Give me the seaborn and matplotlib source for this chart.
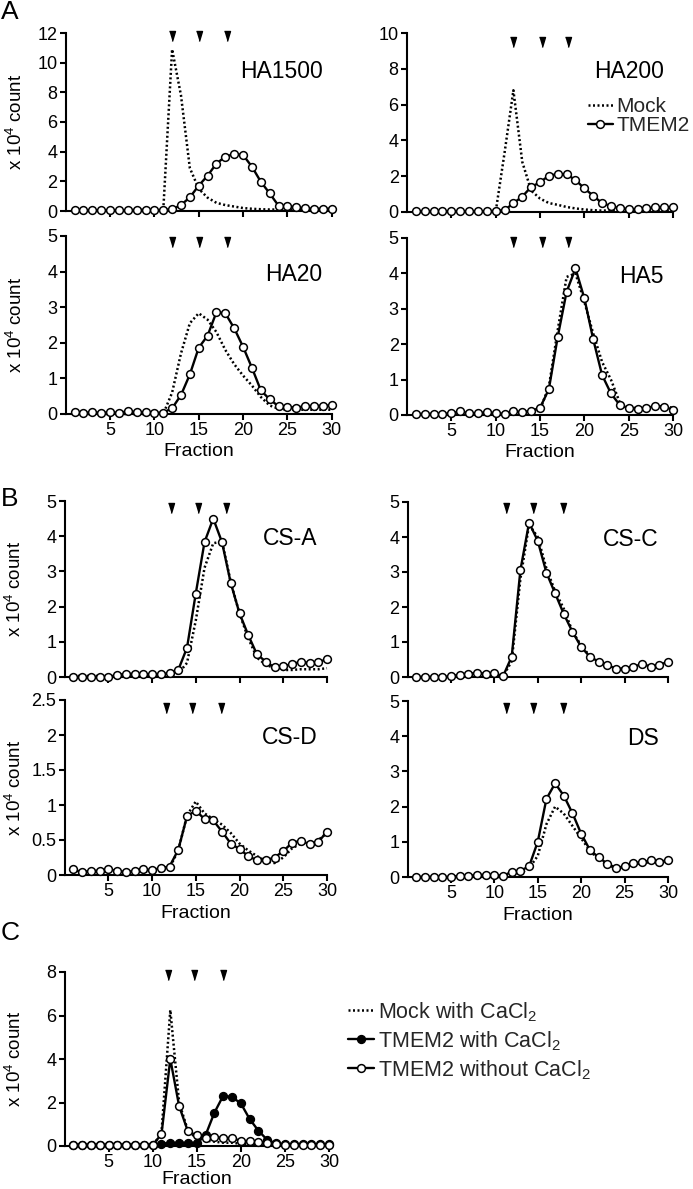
import matplotlib
matplotlib.use("Agg")
import matplotlib.pyplot as plt
import matplotlib.transforms as mtransforms
from matplotlib.lines import Line2D
import seaborn as sns

# ---------------- data ----------------
fractions = list(range(1, 31))

ha1500_mock = [0]*10 + [0, 10.9, 7.8, 2.9, 1.5, 0.9, 0.55, 0.4, 0.3, 0.2,
                        0.15, 0.12, 0.1, 0.1, 0.1, 0.1, 0.1, 0.1, 0.1, 0.1]
ha1500_tmem = [0.05, 0.05, 0.05, 0.05, 0.05, 0.05, 0.05, 0.08, 0.08, 0.05, 0.08,
               0.11, 0.4, 0.92, 1.71, 2.38, 3.2, 3.66, 3.84, 3.78, 2.99, 1.98,
               1.19, 0.36, 0.33, 0.25, 0.18, 0.15, 0.15, 0.15]

ha200_mock = [0]*10 + [3.3, 6.8, 2.8, 1.2, 0.75, 0.5, 0.4, 0.28, 0.2, 0.14,
                       0.1, 0.08, 0.08, 0.08, 0.08, 0.08, 0.08, 0.08, 0.08, 0.08]
ha200_tmem = [0.03, 0.03, 0.03, 0.03, 0.03, 0.03, 0.03, 0.03, 0.03, 0.07, 0.1,
              0.49, 0.86, 1.4, 1.66, 2.03, 2.12, 2.1, 1.79, 1.32, 0.91, 0.49,
              0.34, 0.2, 0.17, 0.15, 0.2, 0.26, 0.26, 0.28]

ha20_mock = [0]*11 + [0.6, 1.7, 2.55, 2.83, 2.65, 2.3, 1.8, 1.4, 1.08, 0.8,
                      0.48, 0.24, 0.15, 0.12, 0.12, 0.12, 0.12, 0.12, 0.12]
ha20_tmem = [0.05, 0.03, 0.05, 0.03, 0.05, 0.03, 0.08, 0.05, 0.05, 0.03, 0.04,
             0.16, 0.53, 1.11, 1.86, 2.2, 2.86, 2.83, 2.41, 1.89, 1.3, 0.67,
             0.41, 0.22, 0.2, 0.18, 0.22, 0.23, 0.23, 0.24]

ha5_mock = [0.03]*14 + [0.15, 0.8, 2.4, 3.9, 4.0, 3.2, 2.3, 1.5, 1.0, 0.35,
                        0.2, 0.2, 0.2, 0.22, 0.25, 0.2]
ha5_tmem = [0.03, 0.02, 0.03, 0.03, 0.05, 0.1, 0.05, 0.05, 0.08, 0.05, 0.03,
            0.1, 0.08, 0.12, 0.2, 0.73, 2.21, 3.48, 4.14, 3.3, 2.14, 1.13,
            0.61, 0.28, 0.19, 0.16, 0.19, 0.26, 0.24, 0.14]

csa_mock = [0.03]*12 + [0.1, 0.4, 1.6, 3.1, 3.8, 3.85, 2.7, 1.8, 1.1, 0.55,
                        0.35, 0.25, 0.2, 0.2, 0.22, 0.22, 0.22, 0.25]
csa_tmem = [0, 0, 0, 0, 0, 0.06, 0.09, 0.09, 0.08, 0.08, 0.09, 0.1, 0.2,
            0.83, 2.37, 3.83, 4.5, 3.83, 2.67, 1.81, 1.19, 0.64, 0.44, 0.27,
            0.3, 0.37, 0.43, 0.4, 0.43, 0.5]

csc_mock = [0, 0, 0, 0, 0.02, 0.07, 0.1, 0.1, 0.1, 0.1, 0.02,
            0.45, 2.8, 4.35, 4.0, 3.1, 2.45, 1.95, 1.3, 0.9, 0.6, 0.45,
            0.33, 0.25, 0.25, 0.28, 0.33, 0.3, 0.35, 0.4]
csc_tmem = [0, 0, 0, 0, 0.02, 0.07, 0.1, 0.11, 0.1, 0.11, 0.02,
            0.58, 3.05, 4.41, 3.89, 2.98, 2.39, 1.8, 1.29, 0.86, 0.58, 0.44,
            0.34, 0.24, 0.24, 0.29, 0.37, 0.3, 0.34, 0.44]

csd_mock = [0.05]*11 + [0.1, 0.35, 0.85, 1.05, 0.88, 0.8, 0.72, 0.6, 0.45,
                        0.35, 0.27, 0.2, 0.17, 0.25, 0.38, 0.45, 0.45, 0.5, 0.6]
csd_tmem = [0.08, 0.04, 0.06, 0.06, 0.08, 0.06, 0.04, 0.06, 0.08, 0.07, 0.1,
            0.12, 0.36, 0.84, 0.92, 0.8, 0.78, 0.62, 0.45, 0.37, 0.27, 0.21,
            0.21, 0.25, 0.34, 0.46, 0.49, 0.44, 0.47, 0.62]

ds_mock = [0]*11 + [0.1, 0.12, 0.25, 0.6, 1.5, 2.0, 1.8, 1.45, 1.1, 0.75,
                    0.5, 0.35, 0.25, 0.28, 0.35, 0.4, 0.42, 0.4, 0.45]
ds_tmem = [0, 0, 0, 0, 0, 0.04, 0.03, 0.06, 0.06, 0.06, 0.03, 0.15, 0.18,
           0.3, 1.0, 2.22, 2.66, 2.31, 1.81, 1.23, 0.77, 0.56, 0.38, 0.26,
           0.3, 0.4, 0.42, 0.47, 0.42, 0.49]

c_mock_ca = [0]*10 + [0.6, 6.25, 2.0, 0.7, 0.35, 0.25, 0.2, 0.15, 0.15, 0.1,
                      0.1, 0.1, 0.05, 0.05, 0.05, 0.05, 0.05, 0.05, 0.05, 0.05]
c_tmem_ca = [0.05]*10 + [0.1, 0.15, 0.15, 0.15, 0.15, 0.5, 1.53, 2.31, 2.25,
                         1.96, 1.24, 0.7, 0.28, 0.12, 0.08, 0.08, 0.08, 0.08,
                         0.08, 0.08]
c_tmem_noca = [0.05]*10 + [0.54, 4.0, 1.84, 0.67, 0.49, 0.37, 0.41, 0.37, 0.37,
                           0.23, 0.23, 0.2, 0.15, 0.1, 0.05, 0.05, 0.05, 0.05,
                           0.05, 0.05]

# arrowhead (size marker) fractions per panel
arrows_ha_left = [12.0, 15.0, 18.2]
arrows_ha_right = [11.9, 15.2, 18.2]
arrows_csa = [12.2, 15.2, 18.5]
arrows_csc = [11.4, 14.5, 17.9]
arrows_csd = [11.65, 14.6, 17.9]
arrows_ds = [11.4, 14.4, 17.9]
arrows_c = [11.7, 14.7, 18.0]

titles = ["HA1500", "HA200", "HA20", "HA5", "CS-A", "CS-C", "CS-D", "DS"]
ylabel_txt = "x 10$^4$ count"
xlabel_txt = "Fraction"
legend_a = ["Mock", "TMEM2"]
legend_c = ["Mock with CaCl$_2$", "TMEM2 with CaCl$_2$", "TMEM2 without CaCl$_2$"]

# ---------------- style ----------------
sns.set_style("ticks")
plt.rcParams["font.family"] = ["Liberation Sans", "DejaVu Sans"]
plt.rcParams["mathtext.fontset"] = "custom"
plt.rcParams["mathtext.rm"] = "Liberation Sans"
plt.rcParams["mathtext.it"] = "Liberation Sans:italic"
plt.rcParams["mathtext.bf"] = "Liberation Sans:bold"

W, H = 693, 1189
fig = plt.figure(figsize=(W / 100, H / 100), dpi=100)


def make_ax(x0, x1, ytop, ybot):
    return fig.add_axes([x0 / W, 1 - ybot / H, (x1 - x0) / W, (ybot - ytop) / H])


DOT = (0, (0.8, 1.0))
TRI = [(-0.6, 1), (0.6, 1), (0, -1)]


def draw_mock(ax, vals):
    sns.lineplot(x=fractions, y=vals, ax=ax, color="black", linestyle=DOT,
                 linewidth=1.8, clip_on=False, zorder=2)


def draw_tmem(ax, vals, filled=False):
    sns.lineplot(x=fractions, y=vals, ax=ax, color="black", linewidth=1.7,
                 marker="o", markersize=5.6,
                 markerfacecolor="black" if filled else "white",
                 markeredgecolor="black", markeredgewidth=1.1,
                 clip_on=False, zorder=3)


def style(ax, ymax, yticks, ytlabels=None, xlabels=True, ylabel=True, xpad=3):
    ax.set_xlim(0, 30)
    ax.set_ylim(0, ymax)
    ax.set_xticks([5, 10, 15, 20, 25, 30])
    ax.set_yticks(yticks)
    if ytlabels is not None:
        ax.set_yticklabels(ytlabels)
    for s in ["top", "right"]:
        ax.spines[s].set_visible(False)
    for s in ["left", "bottom"]:
        ax.spines[s].set_linewidth(1.5)
        ax.spines[s].set_color("black")
    ax.tick_params(width=1.5, length=4, labelsize=13, pad=2, direction="out",
                   color="black", labelcolor="black")
    ax.tick_params(axis="x", labelbottom=xlabels)
    if xlabels:
        ax.set_xlabel(xlabel_txt, fontsize=14, labelpad=xpad, color="black")
    else:
        ax.set_xlabel("")
    if ylabel:
        ax.set_ylabel(ylabel_txt, fontsize=13.5, color="black")
        ax.yaxis.set_label_coords(-0.15, 0.5)
    else:
        ax.set_ylabel("")


def arrows(ax, xs, y):
    trans = mtransforms.blended_transform_factory(ax.transData, ax.transAxes)
    ax.plot(xs, [y] * len(xs), linestyle="none", marker=TRI, ms=7.2,
            color="black", transform=trans, clip_on=False)


def title(ax, txt):
    ax.text(0.965, 0.785, txt, transform=ax.transAxes, ha="right",
            va="center", fontsize=16.5, color="black")


# ---------------- panel A ----------------
ax = make_ax(65.7, 331.7, 33, 211)
draw_mock(ax, ha1500_mock); draw_tmem(ax, ha1500_tmem)
style(ax, 12, [0, 2, 4, 6, 8, 10, 12], xlabels=False)
arrows(ax, arrows_ha_left, 0.985); title(ax, titles[0])

ax = make_ax(407, 673, 33, 212)
draw_mock(ax, ha200_mock); draw_tmem(ax, ha200_tmem)
style(ax, 10, [0, 2, 4, 6, 8, 10], xlabels=False, ylabel=False)
arrows(ax, arrows_ha_right, 0.947); title(ax, titles[1])
handles = [Line2D([], [], color="black", linestyle=DOT, linewidth=1.8),
           Line2D([], [], color="black", linewidth=1.7, marker="o",
                  markersize=5.6, markerfacecolor="white",
                  markeredgecolor="black", markeredgewidth=1.1)]
ax.legend(handles, legend_a, loc="upper left", bbox_to_anchor=(0.68, 0.64),
          frameon=False, fontsize=15, handlelength=1.2, handletextpad=0.15,
          labelspacing=0.0, borderpad=0, borderaxespad=0)

ax = make_ax(65.7, 331.7, 236, 414)
draw_mock(ax, ha20_mock); draw_tmem(ax, ha20_tmem)
style(ax, 5, [0, 1, 2, 3, 4, 5])
arrows(ax, arrows_ha_left, 0.966); title(ax, titles[2])

ax = make_ax(407, 673, 238, 415)
draw_mock(ax, ha5_mock); draw_tmem(ax, ha5_tmem)
style(ax, 5, [0, 1, 2, 3, 4, 5], ylabel=False)
arrows(ax, arrows_ha_right, 0.977); title(ax, titles[3])

# ---------------- panel B ----------------
ax = make_ax(64.5, 327, 501, 677)
draw_mock(ax, csa_mock); draw_tmem(ax, csa_tmem)
style(ax, 5, [0, 1, 2, 3, 4, 5], xlabels=False)
arrows(ax, arrows_csa, 0.96); title(ax, titles[4])

ax = make_ax(407.5, 668, 502, 677)
draw_mock(ax, csc_mock); draw_tmem(ax, csc_tmem)
style(ax, 5, [0, 1, 2, 3, 4, 5], xlabels=False, ylabel=False)
arrows(ax, arrows_csc, 0.966); title(ax, titles[5])

ax = make_ax(64.5, 327, 700, 875)
draw_mock(ax, csd_mock); draw_tmem(ax, csd_tmem)
style(ax, 2.5, [0, 0.5, 1, 1.5, 2, 2.5], ["0", "0.5", "1", "1.5", "2", "2.5"])
arrows(ax, arrows_csd, 0.954); title(ax, titles[6])

ax = make_ax(407.5, 668, 701, 877)
draw_mock(ax, ds_mock); draw_tmem(ax, ds_tmem)
style(ax, 5, [0, 1, 2, 3, 4, 5], ylabel=False)
arrows(ax, arrows_ds, 0.963); title(ax, titles[7])

# ---------------- panel C ----------------
ax = make_ax(64.5, 329, 972, 1146)
draw_mock(ax, c_mock_ca)
draw_tmem(ax, c_tmem_ca, filled=True)
draw_tmem(ax, c_tmem_noca)
style(ax, 8, [0, 2, 4, 6, 8], xpad=-0.5)
arrows(ax, arrows_c, 0.983)
handles_c = [Line2D([], [], color="black", linestyle=DOT, linewidth=1.8),
             Line2D([], [], color="black", linewidth=1.7, marker="o",
                    markersize=5.6, markerfacecolor="black",
                    markeredgecolor="black", markeredgewidth=1.1),
             Line2D([], [], color="black", linewidth=1.7, marker="o",
                    markersize=5.6, markerfacecolor="white",
                    markeredgecolor="black", markeredgewidth=1.1)]
fig.legend(handles_c, legend_c, loc="upper left",
           bbox_to_anchor=(348 / W, 1 - 1000 / H), frameon=False, fontsize=15.5,
           handlelength=1.2, handletextpad=0.2, labelspacing=0.25,
           borderpad=0, borderaxespad=0)

# panel letters
for letter, ytop in [("A", 0), ("B", 487), ("C", 921)]:
    fig.text(1 / W, 1 - ytop / H, letter, fontsize=19, ha="left", va="top",
             color="black")

fig.savefig("out.png", dpi=100)
